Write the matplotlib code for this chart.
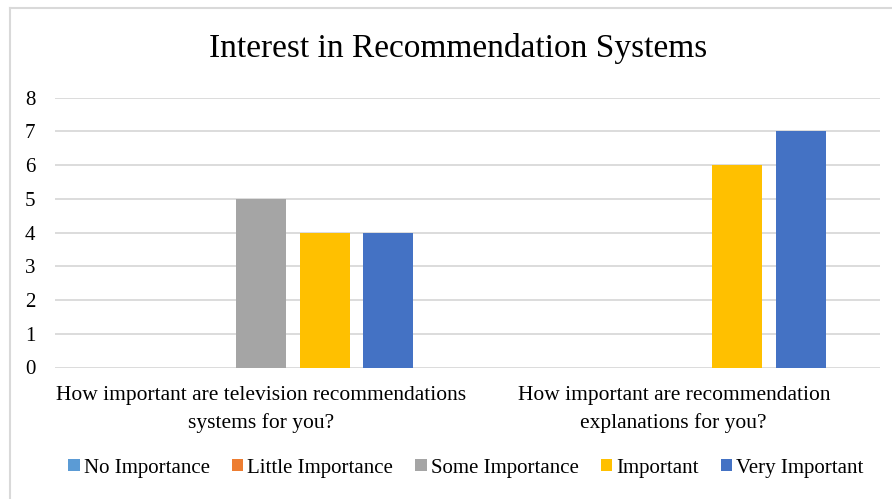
import matplotlib
matplotlib.use("Agg")
import matplotlib.pyplot as plt
import numpy as np
from matplotlib.lines import Line2D
from matplotlib.patches import Patch

plt.rcParams['font.family'] = ['Liberation Serif', 'DejaVu Serif']

categories = ["How important are television recommendations\nsystems for you?",
              "How important are recommendation\nexplanations for you?"]
series_names = ["No Importance", "Little Importance", "Some Importance",
                "Important", "Very Important"]
no_importance = [0, 0]
little_importance = [0, 0]
some_importance = [5, 0]
important = [4, 6]
very_important = [4, 7]
yticks = [0, 1, 2, 3, 4, 5, 6, 7, 8]

values = [no_importance, little_importance, some_importance, important, very_important]
colors = ["#5B9BD5", "#ED7D31", "#A5A5A5", "#FFC000", "#4472C4"]

fig = plt.figure(figsize=(8.92, 4.99), dpi=100)
ax = fig.add_axes([55 / 892, 1 - 367.5 / 499, 825 / 892, (367.5 - 97.7) / 499])

x = np.arange(len(categories))
bar_w = 0.121
step = 0.154
for i, (name, vals, c) in enumerate(zip(series_names, values, colors)):
    ax.bar(x + (i - 2) * step, vals, width=bar_w, color=c, label=name, zorder=3)

ax.set_xlim(-0.5, 1.5)
ax.set_ylim(0, 8)
ax.set_yticks(yticks)
ax.set_yticklabels([str(t) for t in yticks], fontsize=15)
ax.set_xticks(x)
ax.set_xticklabels(categories, fontsize=15.5, linespacing=1.55)
ax.tick_params(axis='both', length=0)
ax.tick_params(axis='y', pad=14)
ax.tick_params(axis='x', pad=13)
ax.grid(axis='y', color="#D9D9D9", linewidth=1.3, zorder=0)
for s in ax.spines.values():
    s.set_visible(False)

fig.text(458 / 892, 1 - 49 / 499, "Interest in Recommendation Systems",
         ha='center', va='center', fontsize=24)

handles = [Patch(facecolor=c, edgecolor='none') for c in colors]
fig.legend(handles, series_names, loc='center', bbox_to_anchor=(466 / 892, 1 - 468 / 499),
           ncol=5, frameon=False, fontsize=15, handlelength=0.55, handleheight=0.55,
           handletextpad=0.2, columnspacing=1.05, borderaxespad=0)

# chart frame
fig.add_artist(Line2D([10 / 892, 10 / 892], [0, 1 - 7.5 / 499], color="#D9D9D9", lw=1.5,
                      transform=fig.transFigure))
fig.add_artist(Line2D([10 / 892, 1], [1 - 7.5 / 499, 1 - 7.5 / 499], color="#D9D9D9", lw=1.5,
                      transform=fig.transFigure))

fig.savefig("out.png", dpi=100, facecolor="white")
